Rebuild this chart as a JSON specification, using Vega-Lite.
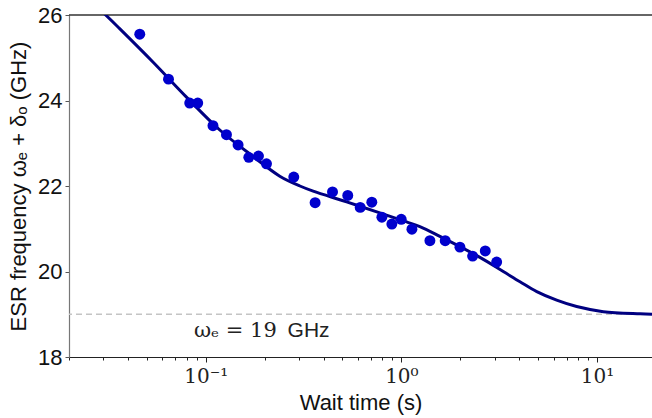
{
  "$schema": "https://vega.github.io/schema/vega-lite/v6.json",
  "autosize": {"type": "none"},
  "width": 583,
  "height": 342,
  "padding": {"left": 69, "top": 15, "right": 0, "bottom": 61},
  "background": "white",
  "view": {"stroke": null},
  "config": {
    "font": "Liberation Sans",
    "axis": {"grid": false}
  },
  "datasets": {
    "points": [
      {"t": 0.0460, "f": 25.55},
      {"t": 0.0645, "f": 24.50},
      {"t": 0.0828, "f": 23.94},
      {"t": 0.0910, "f": 23.94},
      {"t": 0.1089, "f": 23.41},
      {"t": 0.1276, "f": 23.20},
      {"t": 0.1463, "f": 22.96},
      {"t": 0.166, "f": 22.67},
      {"t": 0.186, "f": 22.70},
      {"t": 0.2044, "f": 22.52},
      {"t": 0.2818, "f": 22.21},
      {"t": 0.3623, "f": 21.61},
      {"t": 0.4446, "f": 21.86},
      {"t": 0.532, "f": 21.78},
      {"t": 0.616, "f": 21.50},
      {"t": 0.706, "f": 21.62},
      {"t": 0.795, "f": 21.27},
      {"t": 0.894, "f": 21.11},
      {"t": 0.998, "f": 21.22},
      {"t": 1.132, "f": 20.99},
      {"t": 1.399, "f": 20.72},
      {"t": 1.675, "f": 20.72},
      {"t": 1.992, "f": 20.57},
      {"t": 2.313, "f": 20.36},
      {"t": 2.684, "f": 20.48},
      {"t": 3.069, "f": 20.22}
    ],
    "fit": [
      {"t": 0.02, "f": 26.8},
      {"t": 0.0308, "f": 26.0},
      {"t": 0.0363, "f": 25.68},
      {"t": 0.0537, "f": 24.90},
      {"t": 0.0797, "f": 24.08},
      {"t": 0.118, "f": 23.31},
      {"t": 0.1746, "f": 22.69},
      {"t": 0.239, "f": 22.23},
      {"t": 0.303, "f": 22.00},
      {"t": 0.354, "f": 21.88},
      {"t": 0.525, "f": 21.63},
      {"t": 0.776, "f": 21.37},
      {"t": 1.063, "f": 21.16},
      {"t": 1.243, "f": 21.05},
      {"t": 1.574, "f": 20.82},
      {"t": 2.521, "f": 20.33},
      {"t": 3.317, "f": 20.0},
      {"t": 4.04, "f": 19.76},
      {"t": 4.92, "f": 19.53},
      {"t": 6.22, "f": 19.33},
      {"t": 7.87, "f": 19.18},
      {"t": 10.77, "f": 19.06},
      {"t": 16.6, "f": 19.01},
      {"t": 19.1, "f": 19.0}
    ],
    "refs": [
      {"level": 19, "kind": "baseline"},
      {"level": 26, "kind": "frame"}
    ],
    "notes": [
      {"t": 0.087, "f": 18.47, "label": "ωₑ = 19"},
      {"t": 0.262, "f": 18.47, "label": "GHz"}
    ]
  },
  "layer": [
    {
      "data": {"name": "points"},
      "mark": {"type": "circle", "color": "#0000CD", "opacity": 0},
      "encoding": {
        "x": {
          "field": "t", "type": "quantitative",
          "scale": {"type": "log", "domain": [0.02, 19.1], "nice": false},
          "axis": {
            "title": "Wait time (s)",
            "titleFont": "Liberation Sans", "titleFontSize": 22, "titleFontWeight": "normal", "titleColor": "#111",
            "titlePadding": 6,
            "values": [0.02,0.03,0.04,0.05,0.06,0.07,0.08,0.09,0.1,0.2,0.3,0.4,0.5,0.6,0.7,0.8,0.9,1,2,3,4,5,6,7,8,9,10],
            "labelExpr": "datum.value == 0.1 ? '10⁻¹' : datum.value == 1 ? '10⁰' : datum.value == 10 ? '10¹' : ''",
            "labelFont": "DejaVu Serif", "labelFontSize": 20, "labelColor": "#222",
            "labelPadding": 4, "labelFlush": false, "labelOverlap": false,
            "tickColor": "#222",
            "tickSize": {"condition": {"test": "datum.value == 0.1 || datum.value == 1 || datum.value == 10", "value": 5}, "value": 3},
            "domainColor": "#222", "domainWidth": 1.2
          }
        },
        "y": {
          "field": "f", "type": "quantitative",
          "scale": {"domain": [18, 26], "nice": false, "zero": false},
          "axis": {
            "title": "ESR frequency ωₑ + δₒ (GHz)",
            "titleFont": "Liberation Sans", "titleFontSize": 22, "titleFontWeight": "normal", "titleColor": "#111",
            "titlePadding": 7,
            "values": [18, 20, 22, 24, 26],
            "labelFontSize": 22, "labelColor": "#111", "labelPadding": 3,
            "tickSize": 4, "tickColor": "#555",
            "domainColor": "#777", "domainWidth": 1.2
          }
        }
      }
    },
    {
      "data": {"name": "refs"},
      "transform": [{"filter": "datum.kind == 'baseline'"}],
      "mark": {"type": "rule", "color": "#c4c4c4", "strokeDash": [6, 4], "strokeWidth": 1.5},
      "encoding": {"y": {"field": "level", "type": "quantitative"}}
    },
    {
      "data": {"name": "refs"},
      "transform": [{"filter": "datum.kind == 'frame'"}],
      "mark": {"type": "rule", "color": "#333", "strokeWidth": 1.3},
      "encoding": {"y": {"field": "level", "type": "quantitative"}}
    },
    {
      "data": {"name": "fit"},
      "mark": {"type": "line", "color": "#000080", "strokeWidth": 3, "interpolate": "catmull-rom", "clip": true},
      "encoding": {
        "x": {"field": "t", "type": "quantitative"},
        "y": {"field": "f", "type": "quantitative"}
      }
    },
    {
      "data": {"name": "points"},
      "mark": {"type": "circle", "color": "#0000CD", "opacity": 1, "size": 120},
      "encoding": {
        "x": {"field": "t", "type": "quantitative"},
        "y": {"field": "f", "type": "quantitative"}
      }
    },
    {
      "data": {"name": "notes"},
      "transform": [{"filter": "datum.label != 'GHz'"}],
      "mark": {"type": "text", "font": "DejaVu Serif", "fontSize": 21, "align": "left", "baseline": "alphabetic", "color": "#222"},
      "encoding": {
        "x": {"field": "t", "type": "quantitative"},
        "y": {"field": "f", "type": "quantitative"},
        "text": {"field": "label"}
      }
    },
    {
      "data": {"name": "notes"},
      "transform": [{"filter": "datum.label == 'GHz'"}],
      "mark": {"type": "text", "font": "Liberation Sans", "fontSize": 21, "align": "left", "baseline": "alphabetic", "color": "#222"},
      "encoding": {
        "x": {"field": "t", "type": "quantitative"},
        "y": {"field": "f", "type": "quantitative"},
        "text": {"field": "label"}
      }
    }
  ]
}
